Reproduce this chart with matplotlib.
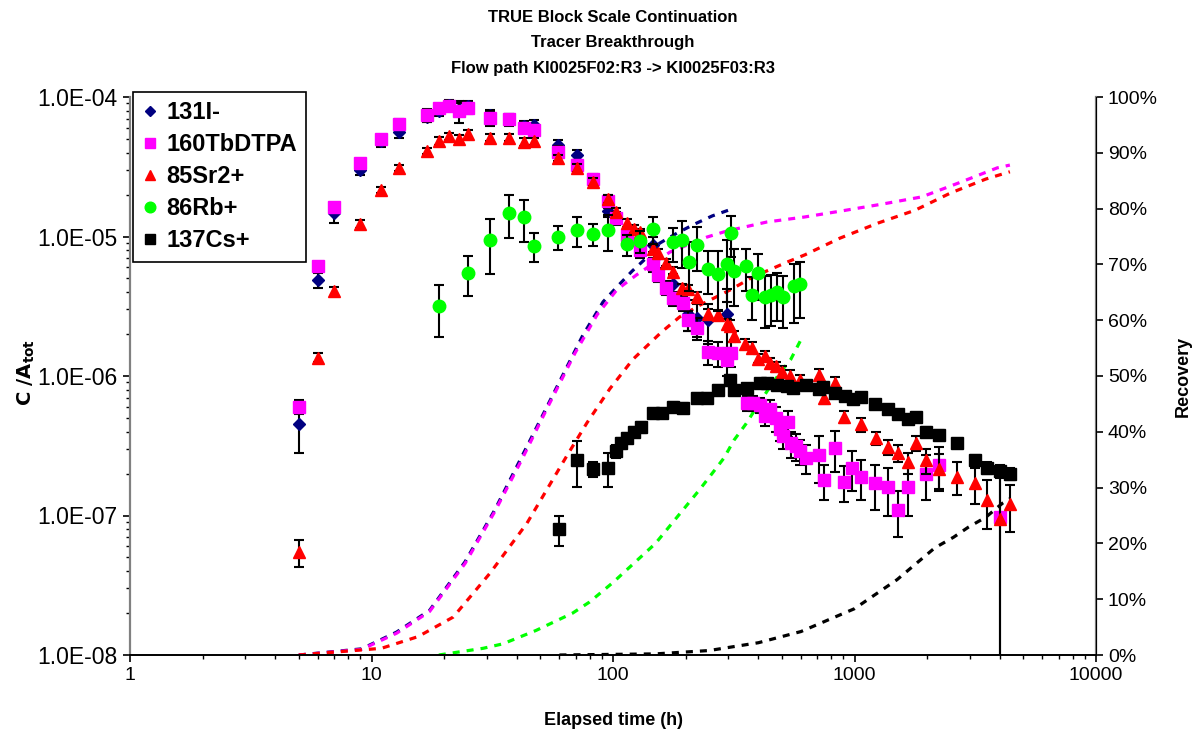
import matplotlib
matplotlib.use("Agg")
import matplotlib.pyplot as plt
from matplotlib.ticker import FuncFormatter, LogLocator, NullFormatter, FixedLocator

plt.rcParams["font.family"] = ["Liberation Sans", "DejaVu Sans"]

# ---- measured concentrations C/A_tot (1/ml) with 1-sigma errors ----
i_t = [5, 6, 7, 9, 11, 13, 17, 19, 21, 23, 25, 31, 37, 43, 47, 59, 71, 83, 95,
       146, 178, 205, 222, 247, 297]
i_c = [4.5e-7, 4.9e-6, 1.48e-5, 3.0e-5, 4.8e-5, 5.6e-5, 7.2e-5, 8.0e-5, 8.8e-5,
       8.2e-5, 8.6e-5, 7.4e-5, 7.0e-5, 6.2e-5, 6.3e-5, 4.5e-5, 3.84e-5, 2.6e-5,
       1.53e-5, 8.7e-6, 4.6e-6, 2.8e-6, 2.6e-6, 2.5e-6, 2.8e-6]
i_e = [1.7e-7, 6e-7, 2.3e-6, 2.5e-6, 4e-6, 5e-6, 6e-6, 7e-6, 7e-6, 8e-6, 8e-6,
       7e-6, 6e-6, 5e-6, 5e-6, 4e-6, 3e-6, 2e-6, 1.5e-6, 1.2e-6, 8e-7, 7e-7,
       7e-7, 8e-7, 1.4e-6]

tb_t = [5, 6, 7, 9, 11, 13, 17, 19, 21, 23, 25, 31, 37, 43, 47, 59, 71, 83, 95,
        103, 114, 129, 146, 153, 166, 178, 195, 205, 222, 247, 272, 297, 307,
        359, 380, 405, 425, 447, 474, 490, 505, 531, 548, 573, 594, 632, 710,
        749, 827, 905, 977, 1060, 1218, 1374, 1521, 1670, 1978, 2236, 4020]
tb_c = [6.0e-7, 6.15e-6, 1.63e-5, 3.37e-5, 5.0e-5, 6.4e-5, 7.4e-5, 8.3e-5, 8.6e-5,
        7.9e-5, 8.3e-5, 7.1e-5, 6.9e-5, 6.0e-5, 5.8e-5, 4.03e-5, 3.25e-5, 2.58e-5,
        1.8e-5, 1.36e-5, 1.02e-5, 8.0e-6, 6.3e-6, 5.3e-6, 4.3e-6, 3.6e-6, 3.34e-6,
        2.5e-6, 2.2e-6, 1.49e-6, 1.46e-6, 1.3e-6, 1.46e-6, 6.4e-7, 6.4e-7, 6.2e-7,
        5.2e-7, 5.8e-7, 5.0e-7, 4.2e-7, 3.7e-7, 4.65e-7, 3.3e-7, 3.15e-7, 2.9e-7,
        2.6e-7, 2.7e-7, 1.8e-7, 3.05e-7, 1.75e-7, 2.2e-7, 1.9e-7, 1.7e-7, 1.6e-7,
        1.1e-7, 1.6e-7, 2.0e-7, 2.3e-7, 9.7e-8]
tb_e = [7e-8, 3e-7, 1e-6, 2e-6, 3e-6, 5e-6, 8e-6, 6e-6, 6e-6, 1.4e-5, 8e-6,
        9e-6, 7e-6, 5e-6, 5e-6, 4e-6, 3e-6, 2e-6, 2e-6, 1.5e-6, 1e-6, 1e-6,
        7e-7, 6e-7, 5e-7, 4e-7, 4e-7, 4e-7, 4e-7, 3e-7, 3e-7, 3e-7, 3e-7, 8e-8,
        8e-8, 8e-8, 8e-8, 9e-8, 1e-7, 8e-8, 7e-8, 1e-7, 7e-8, 7e-8, 6e-8, 6e-8,
        1e-7, 5e-8, 1e-7, 5e-8, 7e-8, 6e-8, 6e-8, 6e-8, 4e-8, 6e-8, 7e-8, 8e-8,
        9.6e-8]

sr_t = [5, 6, 7, 9, 11, 13, 17, 19, 21, 23, 25, 31, 37, 43, 47, 59, 71, 83, 95,
        103, 114, 122, 129, 146, 153, 166, 177, 193, 205, 223, 247, 272, 297, 305,
        317, 352, 377, 398, 426, 447, 473, 501, 541, 594, 710, 748, 827, 905,
        1060, 1225, 1374, 1521, 1670, 1795, 1978, 2236, 2650, 3158, 3527, 4020,
        4400]
sr_c = [5.5e-8, 1.35e-6, 4.07e-6, 1.23e-5, 2.16e-5, 3.1e-5, 4.1e-5, 4.84e-5,
        5.25e-5, 5.0e-5, 5.4e-5, 5.1e-5, 5.1e-5, 4.76e-5, 4.8e-5, 3.65e-5, 3.1e-5,
        2.46e-5, 1.86e-5, 1.5e-5, 1.25e-5, 1.13e-5, 1.07e-5, 8.2e-6, 7.6e-6,
        6.5e-6, 5.6e-6, 4.3e-6, 4.2e-6, 3.7e-6, 2.8e-6, 2.75e-6, 2.37e-6, 2.3e-6,
        1.95e-6, 1.7e-6, 1.6e-6, 1.33e-6, 1.4e-6, 1.24e-6, 1.17e-6, 1.07e-6,
        1.0e-6, 9.3e-7, 1.02e-6, 7.0e-7, 8.9e-7, 5.1e-7, 4.5e-7, 3.6e-7, 3.1e-7,
        2.8e-7, 2.4e-7, 3.3e-7, 2.5e-7, 2.15e-7, 1.9e-7, 1.7e-7, 1.3e-7, 9.5e-8,
        1.21e-7]
sr_e = [1.2e-8, 1e-7, 3e-7, 8e-7, 1e-6, 1.5e-6, 2e-6, 3e-6, 3e-6, 3e-6, 4e-6,
        3e-6, 3e-6, 3e-6, 3e-6, 2e-6, 2e-6, 1.5e-6, 1.2e-6, 1e-6, 8e-7, 7e-7,
        7e-7, 5e-7, 5e-7, 4e-7, 4e-7, 3e-7, 3e-7, 3e-7, 2e-7, 2e-7, 2e-7, 2e-7,
        1.5e-7, 1.5e-7, 1.5e-7, 1e-7, 1e-7, 1e-7, 1e-7, 1e-7, 1e-7, 8e-8, 1e-7,
        7e-8, 9e-8, 5e-8, 5e-8, 4e-8, 4e-8, 4e-8, 4e-8, 4e-8, 5e-8, 6e-8, 5e-8,
        5e-8, 5e-8, 9e-8, 4.5e-8]

rb_t = [19, 25, 31, 37, 43, 47, 59, 71, 83, 95, 114, 129, 146, 177, 193, 206, 222,
        247, 272, 297, 307, 318, 355, 377, 398, 426, 451, 476, 504, 563, 594]
rb_c = [3.2e-6, 5.5e-6, 9.4e-6, 1.47e-5, 1.37e-5, 8.55e-6, 9.9e-6, 1.11e-5,
        1.04e-5, 1.11e-5, 8.8e-6, 9.3e-6, 1.13e-5, 9.1e-6, 9.4e-6, 6.6e-6, 8.7e-6,
        5.85e-6, 5.4e-6, 6.4e-6, 1.06e-5, 5.7e-6, 6.1e-6, 3.8e-6, 5.5e-6, 3.7e-6,
        3.8e-6, 3.97e-6, 3.7e-6, 4.4e-6, 4.6e-6]
rb_e = [1.3e-6, 1.75e-6, 4e-6, 5e-6, 4.5e-6, 2e-6, 1.9e-6, 2.7e-6, 1.8e-6,
        3.2e-6, 1.5e-6, 1.7e-6, 2.5e-6, 2.5e-6, 3.5e-6, 2.5e-6, 3e-6, 2e-6,
        2.5e-6, 3e-6, 3.5e-6, 2.5e-6, 2e-6, 1.3e-6, 2e-6, 1.5e-6, 1.5e-6,
        1.5e-6, 1.5e-6, 2e-6, 2e-6]

cs_t = [60, 71, 83, 95, 103, 108, 114, 122, 131, 146, 160, 177, 194, 222, 245,
        272, 304, 318, 359, 405, 434, 476, 525, 557, 632, 710, 740, 827, 916,
        985, 1060, 1218, 1374, 1521, 1670, 1795, 1978, 2236, 2650, 3158, 3527,
        4020, 4400]
cs_c = [8.0e-8, 2.5e-7, 2.15e-7, 2.2e-7, 2.9e-7, 3.3e-7, 3.6e-7, 4.0e-7, 4.3e-7,
        5.4e-7, 5.4e-7, 6.0e-7, 5.9e-7, 7.0e-7, 7.0e-7, 8.0e-7, 9.3e-7, 7.9e-7,
        8.2e-7, 8.9e-7, 8.9e-7, 8.6e-7, 8.5e-7, 8.2e-7, 8.6e-7, 8.1e-7, 8.4e-7,
        7.5e-7, 7.2e-7, 6.8e-7, 7.1e-7, 6.3e-7, 5.8e-7, 5.3e-7, 4.9e-7, 5.1e-7,
        4.0e-7, 3.8e-7, 3.3e-7, 2.5e-7, 2.2e-7, 2.1e-7, 2.0e-7]
cs_e = [2e-8, 9e-8, 2.5e-8, 6e-8, 3e-8, 3e-8, 3e-8, 3e-8, 4e-8, 4e-8, 4e-8,
        5e-8, 5e-8, 5e-8, 5e-8, 6e-8, 8e-8, 5e-8, 5e-8, 5e-8, 5e-8, 5e-8, 5e-8,
        5e-8, 5e-8, 5e-8, 5e-8, 4e-8, 4e-8, 4e-8, 4e-8, 3e-8, 3e-8, 3e-8, 3e-8,
        3e-8, 3e-8, 3e-8, 2e-8, 2e-8, 2e-8, 2e-8, 2e-8]

# ---- cumulative recovery (fraction of injected activity) ----
i_rt = [5, 9.1, 12.7, 17.4, 24.4, 32.4, 46, 58.5, 75, 91, 104, 120, 137, 156,
        184, 217, 258, 300]
i_r = [0.0, 0.011, 0.041, 0.080, 0.167, 0.260, 0.390, 0.480, 0.573, 0.633,
       0.660, 0.688, 0.711, 0.738, 0.756, 0.772, 0.787, 0.797]

tb_rt = [5, 9.1, 12.7, 17.4, 24.4, 32.4, 41.8, 53.9, 69.8, 86, 104, 125, 172,
         245, 297, 434, 622, 890, 1300, 1900, 2700, 3900, 4400]
tb_r = [0.0, 0.010, 0.039, 0.078, 0.164, 0.257, 0.349, 0.446, 0.542, 0.610,
        0.655, 0.681, 0.722, 0.749, 0.760, 0.776, 0.785, 0.796, 0.808, 0.821,
        0.846, 0.873, 0.878]

sr_rt = [5, 11, 15.6, 21.8, 31, 44, 64, 78, 97, 121, 159, 189, 229, 305, 378,
         525, 622, 870, 1250, 1780, 2500, 3500, 4400]
sr_r = [0.0, 0.012, 0.033, 0.068, 0.147, 0.236, 0.355, 0.416, 0.477, 0.530,
        0.579, 0.606, 0.627, 0.654, 0.677, 0.704, 0.717, 0.747, 0.774, 0.797,
        0.828, 0.853, 0.866]

rb_rt = [19, 29, 35, 48, 68, 80, 100, 150, 228, 258, 288, 317, 355, 393, 438,
         490, 545, 600]
rb_r = [0.0, 0.012, 0.020, 0.044, 0.075, 0.095, 0.130, 0.200, 0.296, 0.326,
        0.353, 0.385, 0.414, 0.444, 0.475, 0.505, 0.530, 0.565]

cs_rt = [60, 150, 250, 400, 600, 1000, 1500, 2150, 2570, 2960, 3500, 4100, 4400]
cs_r = [0.0, 0.002, 0.008, 0.022, 0.042, 0.083, 0.135, 0.192, 0.211, 0.229,
        0.247, 0.272, 0.280]

series = [
    ("131I-", i_t, i_c, i_e, i_rt, i_r, "#000080", "D", 6.5),
    ("160TbDTPA", tb_t, tb_c, tb_e, tb_rt, tb_r, "#FF00FF", "s", 8.5),
    ("85Sr2+", sr_t, sr_c, sr_e, sr_rt, sr_r, "#FF0000", "^", 9),
    ("86Rb+", rb_t, rb_c, rb_e, rb_rt, rb_r, "#00FF00", "o", 9),
    ("137Cs+", cs_t, cs_c, cs_e, cs_rt, cs_r, "#000000", "s", 9),
]

fig = plt.figure(figsize=(12.01, 7.34), dpi=100)
ax = fig.add_axes([130 / 1201, 1 - 655 / 734, 966 / 1201, 558 / 734])
ax2 = ax.twinx()

ax.set_xscale("log")
ax.set_yscale("log")
ax.set_xlim(1, 10000)
ax.set_ylim(1e-8, 1e-4)
ax2.set_ylim(0, 1)

handles = []
for i, (name, t, c, e, rt, r, col, mk, ms) in enumerate(series):
    ax.errorbar(t, c, yerr=e, fmt="none", ecolor="black", elinewidth=1.5,
                capsize=3.8, capthick=1.5, zorder=3 + i)
    h, = ax.plot(t, c, ls="none", marker=mk, color=col, markersize=ms,
                 markeredgecolor=col, zorder=3 + i, label=name)
    handles.append(h)
    ax2.plot(rt, r, color=col, lw=2.3, ls=(0, (2.2, 2.2)), zorder=2)

# keep the concentration data above the recovery axis
ax.set_zorder(ax2.get_zorder() + 1)
ax.patch.set_visible(False)

# ---- axes styling ----
for a in (ax, ax2):
    a.spines["top"].set_visible(False)
ax.spines["left"].set_color("#808080")
ax.spines["left"].set_linewidth(1.6)
ax2.spines["left"].set_visible(False)
ax2.spines["bottom"].set_visible(False)
ax2.spines["right"].set_color("#808080")
ax2.spines["right"].set_linewidth(1.6)
ax.spines["bottom"].set_linewidth(1.4)

ax.yaxis.set_major_locator(FixedLocator([1e-8, 1e-7, 1e-6, 1e-5, 1e-4]))
ax.yaxis.set_minor_locator(LogLocator(base=10, subs=range(2, 10), numticks=20))
ax.yaxis.set_minor_formatter(NullFormatter())
ax.yaxis.set_major_formatter(FuncFormatter(lambda v, p: "{:.1E}".format(v)))
ax.xaxis.set_major_locator(FixedLocator([1, 10, 100, 1000, 10000]))
ax.xaxis.set_minor_locator(LogLocator(base=10, subs=range(2, 10), numticks=20))
ax.xaxis.set_minor_formatter(NullFormatter())
ax.xaxis.set_major_formatter(FuncFormatter(lambda v, p: "{:g}".format(v)))

ax2.set_yticks([k / 10 for k in range(11)])
ax2.yaxis.set_major_formatter(FuncFormatter(lambda v, p: "{:.0f}%".format(v * 100)))

ax.tick_params(axis="both", which="major", direction="out", length=5,
               width=1.2, labelsize=14, colors="black")
ax.tick_params(axis="y", which="major", labelsize=16.5, pad=4)
ax.tick_params(axis="both", which="minor", direction="out", length=3, width=1.0)
ax2.tick_params(axis="y", direction="out", length=5, width=1.2, labelsize=14)

ax.set_xlabel("Elapsed time (h)", fontsize=13, fontweight="bold", labelpad=20)
ax2.set_ylabel("Recovery", fontsize=13, fontweight="bold", labelpad=12)
fig.text(26 / 1201, 1 - 372 / 734, r"$\mathbf{C\ /A}_{\mathbf{tot}}$",
         fontsize=14, rotation=90, ha="center", va="center")

# ---- title ----
for k, line in enumerate(["TRUE Block Scale Continuation",
                          "Tracer Breakthrough",
                          "Flow path KI0025F02:R3 -> KI0025F03:R3"]):
    fig.text(613 / 1201, 1 - (18 + 25 * k) / 734, line, ha="center", va="center",
             fontsize=12, fontweight="bold")

leg = ax.legend(handles=handles, loc="upper left",
                bbox_to_anchor=(133 / 1201, 1 - 92 / 734),
                bbox_transform=fig.transFigure, borderaxespad=0,
                prop={"size": 17, "weight": "bold"}, frameon=True, fancybox=False,
                edgecolor="black", framealpha=1, handlelength=0.6,
                handletextpad=0.4, labelspacing=0.38, borderpad=0.4,
                markerscale=0.85)
leg.get_frame().set_linewidth(1.2)

fig.savefig("out.png", dpi=100, facecolor="white")
